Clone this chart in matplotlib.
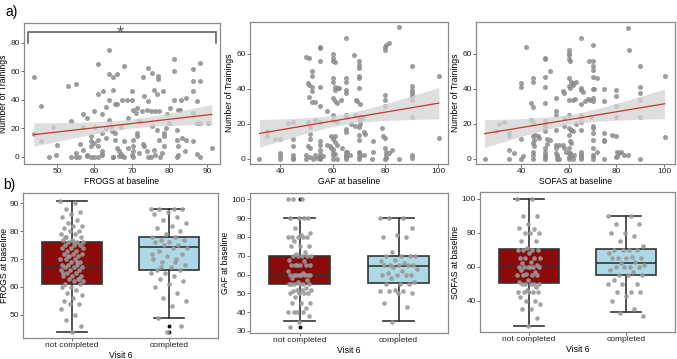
import numpy as np
import matplotlib
matplotlib.use("Agg")
from matplotlib import pyplot as plt

plt.rcParams['font.family'] = ['Liberation Sans', 'DejaVu Sans']

# ---- a) baseline score vs number of trainings ----
frogs_x = [43.8, 43.8, 45.7, 45.7, 48, 49, 49.8, 53, 55, 53.8, 53.8, 55, 56, 57, 57, 58, 56.2, 57, 58, 59,
           59, 59, 59, 60, 60.2, 61, 61, 61, 61, 61, 62, 62, 62, 62.4, 63, 63, 64, 64, 65, 66,
           65, 64, 65.4, 66, 64, 64.5, 64.8, 65.4, 65.4, 66, 66.5, 67, 65, 66.5, 67.3, 68, 67.3, 68.7, 69, 70,
           70.3, 71, 71.3, 70, 70.4, 70.4, 70.4, 70.4, 71.3, 71.3, 73, 74.2, 75.3, 77, 77, 73.3, 74.2, 75.8, 76.7, 78.3,
           72.7, 74, 75, 76.2, 77.3, 75.3, 76.7, 73.1, 74, 74.4, 75.8, 76.2, 77.1, 78.5, 78.5, 78.5, 78, 77.5, 79.3, 80.2,
           81.3, 81.3, 81.1, 82.2, 82.9, 82, 82, 82.4, 82.4, 82.1, 83.2, 84.3, 83.3, 84.4, 84.2, 86.2, 86.2, 86.2, 86.2, 86.2,
           87.4, 88.2, 88.2, 88.2, 87.3, 87.3, 88.2, 90.2, 91.3, 68, 69, 72, 63, 60, 80, 73, 79, 67, 62,
           60, 65, 70, 75, 62, 68, 72, 58, 50, 55]
frogs_y = [56, 16, 36, 11, 0, 21, 1, 50, 51, 25, 0, 0, 0, 30, 21, 27, 9, 5, 0.5, 14.5,
           11, 7.5, 0, 32, 21, 65, 44, 12, 7.5, 0, 4, 1.5, 17, 46, 20.5, 35, 75, 58, 56, 58,
           47, 40, 37, 37, 26, 21.5, 18, 17, 12, 6.5, 4, 2, 0, 0.5, 0.5, 64, 40, 40, 27, 40,
           33, 31, 34, 46, 12, 7.5, 4, 0, 17, 14.5, 56, 62.5, 59, 57, 55, 43, 39, 47, 44, 46,
           32, 33, 32, 32, 32, 21.5, 19, 7.5, 4, 0, 5, 1.5, 12, 17, 14.5, 7.5, 2.5, 0, 30, 34,
           69, 60, 40, 33, 33, 19, 12, 7.5, 1.5, 0, 40, 41, 13, 12, 4, 62, 53, 46, 31, 11,
           39, 66, 53, 24, 24, 2, 0, 23.5, 6, 11, 6, 25, 13, 10, 24, 9, 20, 21, 30,
           0, 0, 1, 0, 2, 0, 3, 1, 8, 3]

gaf_x = [32.2, 35.2, 35.2, 38, 40, 40, 40, 40, 43.2, 45, 45, 45, 45, 45, 50, 51, 50.5, 51, 52, 51,
         52, 50.5, 51.5, 51.5, 51.5, 50.5, 51.5, 51.5, 52.5, 52, 52, 52, 53.3, 53.3, 53.3, 54, 55.2, 55.2, 55.2, 55.2,
         55.2, 55.2, 55.2, 55.2, 55.2, 55.2, 55.2, 56.5, 57.7, 58, 59, 59.5, 60.2, 60.2, 60.2, 61, 61, 60, 60, 60,
         61, 61.5, 61, 62, 62.5, 60, 60, 61.5, 59.5, 61, 60, 61, 61.5, 60, 61, 61.5, 63, 63.5, 65, 65,
         65, 65, 65, 65, 65, 65, 65, 65, 65, 65, 65.5, 66.5, 67, 68.2, 68.8, 69.3, 68.5, 68.5, 70, 70,
         70, 70, 70, 70, 70.3, 70, 70.3, 70.3, 70, 70.8, 71.5, 70, 70, 70, 70.3, 72, 72.3, 72, 75.2, 75.2,
         78.6, 79.2, 80, 80, 80.4, 80, 80, 80, 80, 80, 80.4, 80.4, 80.4, 81.4, 82.4, 81.4, 85.3, 85.3, 90.3, 90.3,
         90.3, 90.3, 90.3, 90.3, 90.3, 90.3, 90.3, 100.3, 100.3,
         50, 55, 60, 60, 65, 70, 70, 45, 80, 50, 55, 65, 60, 70, 75]
gaf_y = [0, 16, 13, 11, 11, 3, 1.5, 0, 20.4, 21, 11, 7, 2.3, 0.4, 58, 57.5, 43, 42, 41, 35,
         32.5, 21, 18, 14, 11, 7, 6, 1, 0, 50, 47, 38.5, 32.4, 22.3, 2.3, 0.5, 64, 63, 56, 41,
         30, 21, 10, 8, 5, 2.5, 0.4, 1.5, 27, 8, 7, 6, 60, 57.5, 55.5, 55, 41, 46, 44, 34.6,
         32.7, 31.8, 39.4, 40.4, 40.5, 25, 22.3, 21, 13, 13, 11.4, 9.5, 7.6, 5.7, 2.5, 0, 33.7, 6, 69, 46,
         44, 39.4, 37.5, 25, 24, 17, 15, 4, 2.3, 0.9, 4, 2, 20, 59, 33.7, 33, 25, 18.5, 56, 53.7,
         51.8, 47.4, 46, 40.4, 31, 24, 22, 20, 18, 24, 24, 13.3, 10.5, 4, 2, 15, 14, 2.3, 10, 4,
         17.5, 13, 11.8, 64, 65, 62, 36.5, 33.3, 30, 6, 4, 2, 0.4, 66, 5, 3.3, 75, 0, 53, 41.3,
         39.4, 37.5, 35.6, 33.3, 24, 2.3, 0.4, 47, 12,
         0, 0, 0, 2, 0, 0, 1, 0, 0, 2, 1, 2, 4, 3, 0]

sofas_x = [24.7, 29.6, 30.9, 32.7, 34.8, 34.8, 34.8, 34.8, 37, 40, 40, 40, 41, 42, 44, 45, 45, 45, 45, 45,
           45.6, 45, 45.6, 45, 45, 46, 47, 50, 50, 50, 50, 50, 50, 50, 50, 50, 50, 50, 50, 52,
           51, 51, 52, 54.8, 54.8, 54.8, 54.8, 54.8, 54.8, 54.8, 55, 55.8, 57.6, 58.2, 58, 58.2, 57.5, 58.2, 58.9, 60,
           60, 60, 60, 60.4, 60, 60, 60.4, 61.1, 61.8, 60, 60, 60, 61.1, 60, 60.4, 61.1, 60, 60.4, 61.1, 61.8,
           62.2, 61, 62, 63, 62, 62.7, 61.8, 65, 65, 65, 65, 65, 65, 65, 65, 65, 65, 65, 67,
           68.4, 69, 70, 70, 70, 70, 70, 70.7, 70, 70, 70, 69.3, 70.4, 70, 70, 70, 70.4, 70, 72, 72,
           75, 75, 75, 75, 75, 78, 80, 80, 80, 80, 80, 80.4, 81, 80.4, 81.8, 83, 85, 85, 85.2, 90.1,
           90, 90, 90, 90, 90, 100.2, 100.2, 44, 47.5, 56, 63, 66, 68,
           50, 55, 60, 60, 65, 70, 45, 50, 55, 60, 65, 70, 75, 40, 80]
sofas_y = [0, 16, 20, 20.8, 14.7, 12.8, 5, 0, 3.2, 43.2, 41, 11.2, 1.3, 64, 32, 29.5, 46, 44, 20.8, 12.8,
           10.9, 9, 7, 4.1, 1.9, 13.7, 12.8, 57.5, 57, 46.7, 41, 31.8, 21.3, 19.4, 17.5, 15.6, 6, 4.1, 1, 50,
           11.4, 8.6, 10.5, 34.7, 27, 25, 16.6, 8, 6, 3.2, 1.3, 0, 38.9, 37.5, 23, 18.5, 7.6, 6.3, 4.1, 62,
           60.4, 58.9, 57, 55.6, 46, 41.7, 40.4, 44, 42, 33.7, 25, 17.5, 16.6, 13.7, 9.9, 9, 6, 3.2, 1.3, 0,
           2.3, 16.5, 43, 44, 33.7, 34, 15.6, 69, 40.4, 39, 31, 25, 23.7, 20.8, 16.6, 4.1, 1.9, 1, 32.8,
           55.6, 33.7, 65, 55.6, 52.8, 50.9, 46.7, 40, 40, 34.7, 32.8, 24, 18.5, 17.5, 14.7, 10.9, 6, 1.3, 46, 4,
           40, 33, 14.7, 10.9, 10, 13.7, 39, 36, 30, 24, 13, 4.1, 3.2, 1.3, 4.1, 2.3, 2.3, 74.7, 62, 52.8,
           41, 37.5, 33.3, 23.8, 0, 47, 12.2, 22, 12, 8, 20, 38, 34,
           0, 0, 1, 3, 0, 0, 0, 2, 2, 0, 2, 2, 0, 0, 1]

top_panels = [
    (frogs_x, frogs_y, 'FROGS at baseline', (41.2, 93.5), (-5, 94), [50, 60, 70, 80, 90], [0, 20, 40, 60, 80]),
    (gaf_x, gaf_y, 'GAF at baseline', (28.6, 103.8), (-3, 78), [40, 60, 80, 100], [0, 20, 40, 60]),
    (sofas_x, sofas_y, 'SOFAS at baseline', (21.1, 104.6), (-3, 78), [40, 60, 80, 100], [0, 20, 40, 60]),
]

# ---- b) baseline score by visit-6 completion ----
groups = ['not completed', 'completed']

frogs_nc = [91, 90, 88, 87, 86, 85, 84, 83, 82, 82, 81, 80, 80, 79, 79, 78, 78, 77, 77, 76,
            76, 76, 75, 75, 75, 74, 74, 73, 73, 72, 72, 72, 71, 71, 70, 70, 70, 69, 69, 68,
            68, 68, 67, 67, 67, 66, 66, 66, 65, 65, 64, 64, 64, 63, 63, 62, 62, 61, 61, 60,
            60, 59, 58, 57, 56, 55, 54, 54, 52, 50, 48, 46, 44, 65, 69, 71, 74, 76, 78, 63]
frogs_c = [88, 88, 88, 88, 87, 86, 85, 84, 83, 82, 81, 80, 79, 78, 78, 77, 77, 76, 76, 75,
           75, 74, 74, 73, 72, 71, 70, 70, 69, 68, 67, 66, 66, 65, 65, 64, 63, 62, 61, 60,
           58, 56, 55, 53, 49, 46, 44, 72, 69, 67]
gaf_nc = [100, 100, 100, 90, 90, 90, 90, 85, 82, 81, 80, 80, 80, 80, 80, 78, 75, 75, 75, 72,
          71, 70, 70, 70, 70, 70, 68, 67, 65, 65, 65, 65, 65, 65, 62, 61, 60, 60, 60, 60,
          60, 60, 60, 60, 58, 57, 56, 55, 55, 55, 55, 55, 55, 53, 52, 52, 52, 51, 50, 50,
          50, 50, 48, 45, 45, 45, 42, 40, 40, 40, 40, 38, 35, 32]
gaf_c = [90, 90, 90, 85, 81, 80, 80, 72, 70, 70, 70, 70, 68, 67, 66, 65, 65, 65, 65, 65,
         64, 63, 62, 61, 60, 60, 60, 60, 58, 56, 55, 55, 55, 52, 51, 51, 51, 50, 50, 45,
         43, 35]
sofas_nc = [100, 100, 90, 90, 85, 83, 82, 80, 80, 80, 75, 75, 71, 70, 70, 70, 70, 68, 65, 65,
            65, 65, 63, 62, 61, 60, 60, 60, 60, 60, 60, 58, 57, 56, 55, 55, 55, 55, 52, 51,
            50, 50, 50, 50, 50, 48, 46, 45, 45, 45, 45, 45, 42, 40, 40, 38, 35, 35, 30, 25]
sofas_c = [90, 90, 85, 85, 80, 80, 78, 75, 72, 70, 70, 70, 70, 68, 66, 65, 65, 65, 65, 63,
           62, 61, 60, 60, 60, 60, 58, 57, 55, 55, 55, 52, 50, 50, 50, 45, 45, 45, 43, 40,
           35, 33, 31]

# box stats: (q1, median, q3, whisker low, whisker high, outliers)
frogs_box = [(61, 67.3, 76, 44, 91, []), (66, 74.2, 78, 49, 88, [44, 46])]
gaf_box = [(55, 60, 70, 35.5, 90, [100, 32]), (55.3, 64.5, 70, 35.5, 90, [])]
sofas_box = [(50.2, 60.3, 70.3, 25.2, 100, []), (55, 62.2, 70.3, 33.3, 90, [])]

bottom_panels = [
    (frogs_nc, frogs_c, frogs_box, 'FROGS at baseline', (41.7, 93.7), [50, 60, 70, 80, 90]),
    (gaf_nc, gaf_c, gaf_box, 'GAF at baseline', (28.9, 103.4), [30, 40, 50, 60, 70, 80, 90, 100]),
    (sofas_nc, sofas_c, sofas_box, 'SOFAS at baseline', (21.5, 104.1), [40, 60, 80, 100]),
]

TICK_FS = 6.0
LABEL_FS = 6.2

W, H = 677, 359
fig = plt.figure(figsize=(W / 100, H / 100), dpi=100)


def px_axes(l, t, r, b):
    return fig.add_axes([l / W, 1 - b / H, (r - l) / W, (b - t) / H])


def style(ax):
    for s in ax.spines.values():
        s.set_color('#8a8a8a')
        s.set_linewidth(0.9)
    ax.tick_params(length=2, width=0.6, color='#555555', labelsize=TICK_FS, pad=1, labelcolor='#222222')


def ols_band(x, y):
    x = np.asarray(x, float)
    y = np.asarray(y, float)
    n = len(x)
    b, a = np.polyfit(x, y, 1)
    res = y - (a + b * x)
    s = np.sqrt(np.sum(res ** 2) / (n - 2))
    xs = np.linspace(x.min(), x.max(), 100)
    se = s * np.sqrt(1 / n + (xs - x.mean()) ** 2 / np.sum((x - x.mean()) ** 2))
    yhat = a + b * xs
    return xs, yhat, yhat - 1.97 * se, yhat + 1.97 * se


top_boxes = [(24, 23, 220, 164), (250, 22, 448, 164), (476, 22, 675, 164)]
for (x, y, xlabel, xlim, ylim, xt, yt), pos in zip(top_panels, top_boxes):
    ax = px_axes(*pos)
    ax.scatter(x, y, s=13, color='#8c8c8c', alpha=0.85, linewidths=0, zorder=2)
    xs, yhat, lo, hi = ols_band(x, y)
    ax.fill_between(xs, lo, hi, color='#d4d4d4', alpha=0.75, linewidth=0, zorder=3)
    ax.plot(xs, yhat, color='#c0392b', lw=0.9, zorder=4)
    ax.set_xlim(*xlim)
    ax.set_ylim(*ylim)
    ax.set_xticks(xt)
    ax.set_yticks(yt)
    ax.set_xlabel(xlabel, fontsize=LABEL_FS, labelpad=1.5)
    ax.set_ylabel('Number of Trainings', fontsize=LABEL_FS, labelpad=1.5)
    style(ax)
    if xlabel.startswith('FROGS'):
        ax.plot([42.3, 42.3, 92.4, 92.4], [80, 87.7, 87.7, 80], color='#555555', lw=1.1,
                solid_joinstyle='miter', zorder=5)
        ax.text(67, 86.5, '*', ha='center', va='center', fontsize=13, color='#555555')

bottom_boxes = [(23, 193, 218, 338), (250, 193, 448, 333), (480, 192, 675, 332)]
fills = ['#8b0a0a', '#add8e6']
for j, ((nc, c, box, ylabel, ylim, yt), pos) in enumerate(zip(bottom_panels, bottom_boxes)):
    ax = px_axes(*pos)
    stats = []
    for q1, med, q3, wlo, whi, fl in box:
        stats.append(dict(q1=q1, med=med, q3=q3, whislo=wlo, whishi=whi, fliers=fl))
    bp = ax.bxp(stats, positions=[0, 1], widths=0.62, capwidths=0.31, patch_artist=True,
                showfliers=True,
                boxprops=dict(edgecolor='#333333', linewidth=1.2),
                medianprops=dict(color='#333333', linewidth=1.2),
                whiskerprops=dict(color='#333333', linewidth=1.2),
                capprops=dict(color='#333333', linewidth=1.2),
                flierprops=dict(marker='o', markersize=1.8, markerfacecolor='#111111',
                                markeredgecolor='#111111'))
    for patch, col in zip(bp['boxes'], fills):
        patch.set_facecolor(col)
    for i, (vals, half) in enumerate([(nc, 0.12), (c, 0.19)]):
        k = np.arange(len(vals))
        jit = ((k * 0.6180339) % 1 - 0.5) * 2 * half
        ax.scatter(i + jit, vals, s=11, color='#999999', alpha=0.9, linewidths=0, zorder=3)
    ax.set_xlim(-0.5, 1.5)
    ax.set_ylim(*ylim)
    ax.set_yticks(yt)
    ax.set_xticks([0, 1])
    ax.set_xticklabels(groups)
    ax.set_xlabel('Visit 6', fontsize=LABEL_FS, labelpad=1)
    ax.set_ylabel(ylabel, fontsize=LABEL_FS, labelpad=0.3 if j == 0 else 1.5)
    style(ax)

fig.text(0.008, 0.985, 'a)', fontsize=10, va='top', ha='left')
fig.text(0.004, 0.505, 'b)', fontsize=10, va='top', ha='left')

fig.savefig('out.png', dpi=100)
